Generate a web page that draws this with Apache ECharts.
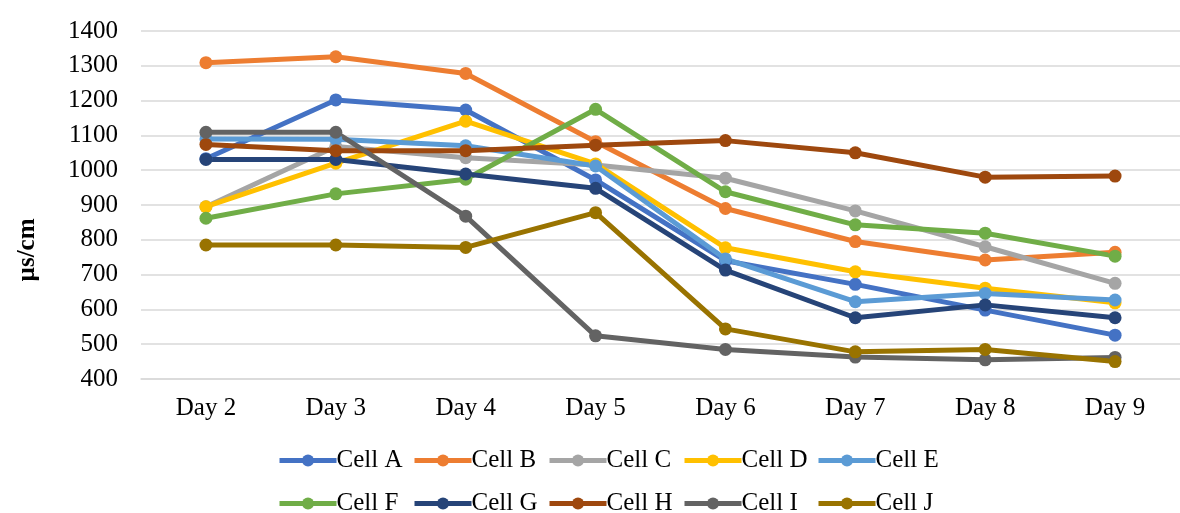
<!DOCTYPE html>
<html>
<head>
<meta charset="utf-8">
<script src="https://cdn.jsdelivr.net/npm/echarts@6/dist/echarts.min.js"></script>
<style>html,body{margin:0;padding:0;background:#fff;}#c{width:1180px;height:513px;}</style>
</head>
<body>
<div id="c"></div>
<script>
const categories = ['Day 2','Day 3','Day 4','Day 5','Day 6','Day 7','Day 8','Day 9'];
const yTicks = [400,500,600,700,800,900,1000,1100,1200,1300,1400];
const seriesNames = ['Cell A','Cell B','Cell C','Cell D','Cell E','Cell F','Cell G','Cell H','Cell I','Cell J'];
const colors = ['#4472C4','#ED7D31','#A5A5A5','#FFC000','#5B9BD5','#70AD47','#264478','#9E480E','#636363','#997300'];
const cellA = [1033,1202,1173,972,740,672,598,526];
const cellB = [1309,1326,1278,1082,890,795,742,764];
const cellC = [895,1068,1036,1015,977,883,780,675];
const cellD = [895,1020,1141,1018,777,708,661,619];
const cellE = [1090,1089,1070,1012,745,622,646,627];
const cellF = [862,932,974,1175,938,843,819,753];
const cellG = [1031,1031,989,948,713,576,613,576];
const cellH = [1074,1056,1056,1072,1085,1050,980,983];
const cellI = [1109,1109,868,524,485,463,455,462];
const cellJ = [785,785,778,878,544,478,485,450];
const allData = [cellA,cellB,cellC,cellD,cellE,cellF,cellG,cellH,cellI,cellJ];

const font = '"Liberation Serif","Times New Roman",serif';
const chart = echarts.init(document.getElementById('c'));
const legendLefts = [277, 412, 547, 682, 816];
const legendTops = [448, 491];
const legends = seriesNames.map((n, i) => ({
  left: legendLefts[i % 5], top: legendTops[Math.floor(i / 5)],
  orient: 'horizontal', itemWidth: 57, itemHeight: 15, padding: 0,
  lineStyle: {width: 5},
  textStyle: {fontFamily: font, fontSize: 25, color: '#000', padding: [0,0,0,-5]},
  data: [n]
}));
chart.setOption({
  animation: false,
  color: colors,
  grid: {left: 141, top: 31, bottom: 134, right: -10},
  legend: legends,
  graphic: [{
    type: 'text', x: 28, y: 250, rotation: Math.PI/2,
    style: {text: 'µs/cm', font: 'bold 25px ' + font, fill: '#000', textAlign: 'center', textVerticalAlign: 'middle'}
  }],
  xAxis: {
    type: 'category', data: categories, boundaryGap: true,
    axisLine: {lineStyle: {color: '#D9D9D9', width: 1.5}},
    axisTick: {show: false},
    axisLabel: {fontFamily: font, fontSize: 25, color: '#000', margin: 17}
  },
  yAxis: {
    type: 'value', min: yTicks[0], max: yTicks[yTicks.length-1], interval: 100,
    axisLine: {show: false}, axisTick: {show: false},
    splitLine: {lineStyle: {color: '#D9D9D9', width: 1.5}},
    axisLabel: {fontFamily: font, fontSize: 25, color: '#000', margin: 23, formatter: v => String(v)}
  },
  series: seriesNames.map((n, i) => ({
    name: n, type: 'line', data: allData[i],
    symbol: 'circle', symbolSize: 13,
    lineStyle: {width: 5, color: colors[i]},
    itemStyle: {color: colors[i]}
  }))
});
</script>
</body>
</html>
